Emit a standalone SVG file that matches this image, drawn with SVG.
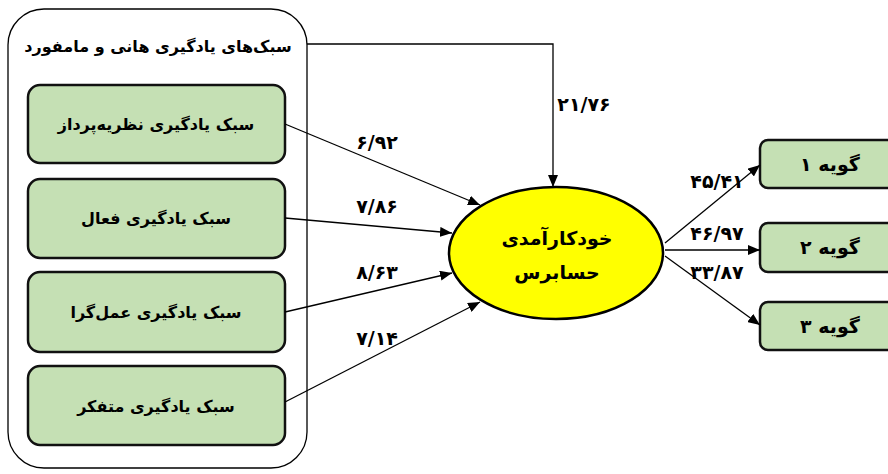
<svg xmlns="http://www.w3.org/2000/svg" width="888" height="474" viewBox="0 0 888 474">
<style>
.box{fill:#c5e0b4;stroke:#111;stroke-width:2.5}
.t{font-family:"DejaVu Sans",sans-serif;font-size:16px;font-weight:bold;fill:#000;text-anchor:middle}
.e{font-family:"DejaVu Sans",sans-serif;font-size:19px;font-weight:bold;fill:#000;text-anchor:middle}
.n{font-family:"DejaVu Sans",sans-serif;font-size:19px;font-weight:bold;fill:#000;text-anchor:middle;letter-spacing:1px}
.c{fill:none;stroke:#000;stroke-width:1.3}
</style>
<defs>
<marker id="ah" viewBox="0 0 12 10" refX="12" refY="5" markerWidth="12" markerHeight="10" markerUnits="userSpaceOnUse" orient="auto">
<path d="M0,0 L12,5 L0,10 z" fill="#000"/>
</marker>
</defs>
<rect width="888" height="474" fill="#fff"/>
<g id="container">
<rect x="8" y="9" width="299" height="459" rx="36" ry="36" fill="none" stroke="#000" stroke-width="1.3"/>
<text class="t" x="158" y="52" direction="rtl">سبک‌های یادگیری هانی و مامفورد</text>
</g>
<g id="n1"><rect class="box" x="28" y="85" width="257" height="78" rx="12"/><text class="t" x="156" y="130" direction="rtl">سبک یادگیری نظریه‌پرداز</text></g>
<g id="n2"><rect class="box" x="28" y="179" width="257" height="79" rx="12"/><text class="t" x="156" y="224" direction="rtl">سبک یادگیری فعال</text></g>
<g id="n3"><rect class="box" x="28" y="272" width="257" height="80" rx="12"/><text class="t" x="156" y="318" direction="rtl">سبک یادگیری عمل‌گرا</text></g>
<g id="n4"><rect class="box" x="28" y="366" width="257" height="79" rx="12"/><text class="t" x="156" y="412" direction="rtl">سبک یادگیری متفکر</text></g>
<g id="center"><ellipse cx="556" cy="253" rx="107" ry="66" fill="#ffff00" stroke="#000" stroke-width="2.5"/>
<text class="e" x="557" y="245" direction="rtl">خودکارآمدی</text>
<text class="e" x="557" y="279" direction="rtl">حسابرس</text></g>
<g id="g1"><rect class="box" x="760" y="140" width="140" height="48" rx="8"/><text class="e" x="830" y="171" direction="rtl">گویه ۱</text></g>
<g id="g2"><rect class="box" x="760" y="223" width="140" height="49" rx="8"/><text class="e" x="830" y="254" direction="rtl">گویه ۲</text></g>
<g id="g3"><rect class="box" x="760" y="302" width="140" height="48" rx="8"/><text class="e" x="830" y="333" direction="rtl">گویه ۳</text></g>
<g id="connectors">
<path class="c" d="M307,44 L553,44 L553,187" marker-end="url(#ah)"/>
<path class="c" d="M285,124 L480,205" marker-end="url(#ah)"/>
<path class="c" d="M285,218 L452,233" marker-end="url(#ah)"/>
<path class="c" d="M285,312 L452,273" marker-end="url(#ah)"/>
<path class="c" d="M285,402 L480,302" marker-end="url(#ah)"/>
<path class="c" d="M665,243 L760,165" marker-end="url(#ah)"/>
<path class="c" d="M665,250 L760,250" marker-end="url(#ah)"/>
<path class="c" d="M665,256 L760,325" marker-end="url(#ah)"/>
</g>
<g id="labels">
<text class="n" x="377" y="149">۶/۹۲</text>
<text class="n" x="377" y="213">۷/۸۶</text>
<text class="n" x="377" y="279">۸/۶۳</text>
<text class="n" x="377" y="345">۷/۱۴</text>
<text class="n" x="584" y="111">۲۱/۷۶</text>
<text class="n" x="717" y="188">۴۵/۴۱</text>
<text class="n" x="717" y="240">۴۶/۹۷</text>
<text class="n" x="717" y="279">۳۳/۸۷</text>
</g>
</svg>
